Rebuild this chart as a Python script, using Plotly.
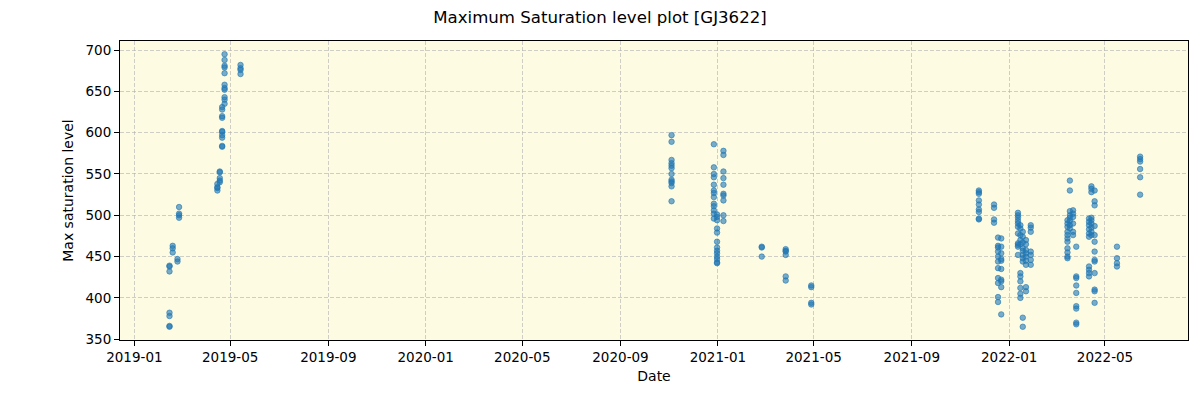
import plotly.graph_objects as go

# ---- data: observation dates and max saturation levels ----
dates_2019 = (
    ["2019-02-14"] * 7 + ["2019-02-18"] * 3 + ["2019-02-24"] * 2 + ["2019-02-26"] * 4
    + ["2019-04-15"] * 4 + ["2019-04-18"] * 5 + ["2019-04-21"] * 10 + ["2019-04-24"] * 11
    + ["2019-05-14"] * 4
)
values_2019 = [
    366, 365, 378, 382, 432, 439, 438,
    455, 460, 463,
    444, 447,
    497, 500, 502, 510,
    530, 534, 538, 533,
    553, 545, 542, 540, 552,
    601, 597, 594, 583, 584, 618, 620, 628, 631, 602,
    635, 640, 643, 652, 654, 658, 672, 679, 681, 688, 695,
    682, 678, 676, 671,
]

dates_2020 = (
    ["2020-11-04"] * 12 + ["2020-12-27"] * 13 + ["2020-12-31"] * 13 + ["2021-01-08"] * 10
    + ["2021-02-25"] * 3 + ["2021-03-27"] * 6 + ["2021-04-28"] * 4
)
values_2020 = [
    597, 589, 567, 563, 560, 557, 550, 543, 541, 539, 535, 517,
    586, 558, 550, 546, 537, 530, 527, 522, 514, 511, 506, 502, 496,
    501, 498, 494, 484, 479, 468, 461, 457, 454, 450, 447, 443, 442,
    578, 573, 553, 545, 537, 526, 518, 524, 500, 493,
    462, 461, 450,
    459, 457, 456, 452, 426, 421,
    415, 413, 394, 392,
]

dates_2021 = (
    ["2021-11-24"] * 9 + ["2021-12-13"] * 4 + ["2021-12-18"] * 11 + ["2021-12-22"] * 10
    + ["2022-01-12"] * 11 + ["2022-01-15"] * 11 + ["2022-01-18"] * 10 + ["2022-01-22"] * 9
    + ["2022-01-28"] * 7
    + ["2022-03-15"] * 11 + ["2022-03-18"] * 8 + ["2022-03-22"] * 6 + ["2022-03-26"] * 9
    + ["2022-04-11"] * 10 + ["2022-04-14"] * 9 + ["2022-04-18"] * 13
    + ["2022-05-16"] * 4 + ["2022-06-14"] * 6
)
values_2021 = [
    530, 528, 526, 518, 513, 507, 504, 496, 495,
    513, 509, 495, 491,
    473, 463, 461, 456, 450, 444, 436, 424, 418, 401, 395,
    472, 462, 454, 447, 435, 422, 413, 380, 445, 420,
    500, 503, 497, 493, 490, 486, 478, 466, 464, 462, 452,
    488, 484, 476, 470, 465, 430, 426, 420, 412, 405, 400,
    480, 474, 467, 460, 457, 452, 448, 444, 376, 365,
    470, 465, 458, 454, 450, 445, 440, 413, 408,
    488, 485, 480, 456, 452, 446, 440,
    494, 490, 486, 480, 476, 472, 468, 460, 455, 450, 448,
    542, 530, 505, 500, 497, 493, 488, 484,
    506, 502, 498, 490, 480, 476,
    462, 426, 424, 415, 406, 390, 387, 370, 368,
    496, 492, 488, 483, 478, 474, 438, 434, 430, 426,
    535, 532, 528, 497, 494, 490, 485, 480, 476,
    530, 517, 512, 487, 476, 468, 456, 446, 444, 430, 410, 408, 394,
    462, 448, 442, 438,
    571, 568, 565, 556, 546, 525,
]

x_ticks = ["2019-01-01", "2019-05-01", "2019-09-01", "2020-01-01", "2020-05-01", "2020-09-01",
           "2021-01-01", "2021-05-01", "2021-09-01", "2022-01-01", "2022-05-01"]
x_tick_labels = ["2019-01", "2019-05", "2019-09", "2020-01", "2020-05", "2020-09",
                 "2021-01", "2021-05", "2021-09", "2022-01", "2022-05"]
y_ticks = [350, 400, 450, 500, 550, 600, 650, 700]

dates = dates_2019 + dates_2020 + dates_2021
values = values_2019 + values_2020 + values_2021

fig = go.Figure()
fig.add_trace(go.Scatter(
    x=dates, y=values, mode="markers",
    marker=dict(size=5.5, color="rgba(31,119,180,0.6)",
                line=dict(width=1, color="rgba(31,119,180,0.6)")),
    showlegend=False,
))

axis_common = dict(
    showline=True, linecolor="black", linewidth=1, mirror=True,
    ticks="outside", ticklen=5, tickcolor="black", tickwidth=1,
    showgrid=True, gridcolor="rgba(176,176,176,0.6)", griddash="4px,2px", gridwidth=1,
    zeroline=False,
    tickfont=dict(size=13.5, color="black"),
    title_font=dict(size=14, color="black"),
)

fig.update_layout(
    width=1200, height=400,
    margin=dict(l=120, r=12, t=41, b=60),
    paper_bgcolor="white",
    plot_bgcolor="#fdfbe2",
    font=dict(family="DejaVu Sans", color="black"),
    title=dict(text="Maximum Saturation level plot [GJ3622]", x=0.5, xanchor="center",
               y=1 - 17 / 400, yanchor="middle", yref="container",
               font=dict(size=16.6, color="black")),
    xaxis=dict(axis_common, type="date", range=["2018-12-14", "2022-08-13"],
               tickvals=x_ticks, ticktext=x_tick_labels,
               title=dict(text="Date", standoff=6)),
    yaxis=dict(axis_common, range=[349, 711], tickvals=y_ticks,
               title=dict(text="Max saturation level", standoff=8)),
)

fig.write_html("out.html", config={"displayModeBar": False},
               post_script="document.body.style.margin='0';")
